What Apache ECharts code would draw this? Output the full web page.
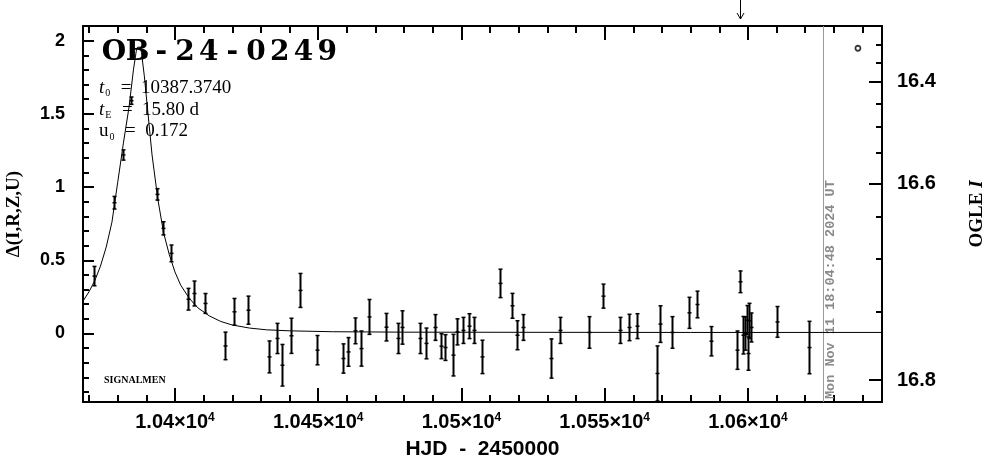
<!DOCTYPE html>
<html>
<head>
<meta charset="utf-8">
<script src="https://cdn.jsdelivr.net/npm/echarts@6/dist/echarts.min.js"></script>
<style>
html,body{margin:0;padding:0;background:#fff;}
#chart{width:986px;height:459px;}
</style>
</head>
<body>
<div id="chart"></div>
<script>
// ---------------- data ----------------
const X_MIN = 10367.9, X_MAX = 10646.8;
const Y_MIN = -0.468, Y_MAX = 2.10;

// photometry: HJD-2450000, Delta, error
const hjd = [10371.7,10378.7,10381.8,10384.6,10393.6,10395.7,10398.5,10404.6,10406.7,10410.6,
  10417.5,10420.7,10425.6,10432.8,10435.7,10437.4,10440.5,10443.6,10449.6,10458.5,
  10460.5,10462.8,10464.8,10467.8,10473.5,10477.7,10479.3,10485.5,10487.6,10490.6,
  10492.7,10494.4,10497.1,10498.5,10500.6,10502.6,10504.4,10507.3,10513.6,10517.5,
  10519.4,10521.5,10531.4,10534.5,10544.4,10549.4,10555.3,10558.5,10561.3,10568.3,
  10569.4,10573.5,10579.4,10582.3,10587.2,10596.1,10597.3,10598.3,10598.9,10599.6,
  10600.0,10600.5,10601.1,10610.3,10621.3];
const delta = [0.392,0.893,1.219,1.59,0.950,0.718,0.547,0.234,0.273,0.205,
  -0.085,0.148,0.159,-0.160,-0.034,-0.217,-0.016,0.294,-0.114,-0.171,
  -0.126,0.018,-0.103,0.113,0.043,-0.034,0.041,-0.034,-0.068,0.041,
  -0.087,-0.096,-0.148,0.011,0.021,0.050,0.021,-0.160,0.342,0.189,
  -0.012,0.041,-0.171,0.021,0.007,0.255,0.021,0.041,0.050,-0.273,
  0.064,0.007,0.141,0.198,-0.053,-0.114,0.353,-0.012,0.000,0.091,
  -0.137,0.086,0.041,0.079,-0.096];
const err = [0.066,0.043,0.035,0.025,0.039,0.045,0.057,0.074,0.085,0.068,
  0.094,0.091,0.096,0.109,0.103,0.142,0.120,0.116,0.100,0.100,
  0.098,0.088,0.120,0.119,0.094,0.103,0.114,0.103,0.105,0.088,
  0.085,0.088,0.142,0.089,0.089,0.085,0.089,0.114,0.097,0.085,
  0.099,0.088,0.134,0.089,0.108,0.082,0.089,0.090,0.085,0.188,
  0.125,0.108,0.106,0.091,0.100,0.131,0.074,0.128,0.114,0.100,
  0.114,0.120,0.099,0.105,0.179];

// model curve
const modelT = [10367.9,10370,10372,10374,10376,10378,10380,10382,10384,10385.5,10386.5,10386.9,10387.4,
  10387.9,10388.3,10389.3,10390.5,10392,10394,10396,10398,10400,10402,10405,10408,10412,10416,
  10420,10426,10432,10440,10455,10480,10520,10580,10646.8];
const modelDelta = [0.221,0.285,0.36,0.46,0.59,0.76,1.03,1.30,1.55,1.80,1.93,1.955,1.965,
  1.955,1.92,1.76,1.52,1.22,0.92,0.69,0.54,0.42,0.33,0.24,0.175,0.12,0.082,
  0.058,0.037,0.025,0.018,0.012,0.009,0.008,0.007,0.007];

// fit parameters (text)
const eventName = 'OB-24-0249';
const t0Text = '10387.3740', tEText = '15.80 d', u0Text = '0.172';

// tick values
const xMajor = [10400,10450,10500,10550,10600];
const xMinor = [10370,10380,10390,10410,10420,10430,10440,10460,10470,10480,10490,10510,10520,10530,10540,10560,10570,10580,10590,10610,10620,10630,10640];
const yMajor = [0,0.5,1,1.5,2];
const yMinor = [-0.4,-0.3,-0.2,-0.1,0.1,0.2,0.3,0.4,0.6,0.7,0.8,0.9,1.1,1.2,1.3,1.4,1.6,1.7,1.8,1.9,2.0];
// OGLE I magnitude ticks and the Delta level each one sits at on the right axis
const magTicks = [16.3,16.35,16.4,16.45,16.5,16.55,16.6,16.65,16.7,16.75,16.8];
const magTickDelta = [1.971,1.846,1.720,1.572,1.412,1.234,1.025,0.797,0.513,0.148,-0.319];
const magLabels = [16.4,16.6,16.8];

// extra markers
const nowHJD = 10626.25;
const nowText = 'Mon Nov 11 18:04:48 2024 UT';
const arrowHJD = 10597.3;
const legendSym = [10638.4, 1.948];

// ---------------- chart ----------------
const magLabelDelta = magLabels.map(m => magTickDelta[magTicks.indexOf(m)]);
const magMinorDelta = magTicks.filter(m => magLabels.indexOf(m) < 0).map(m => magTickDelta[magTicks.indexOf(m)]);

const chart = echarts.init(document.getElementById('chart'));
const BLACK = '#000';
const tickStyle = {color: BLACK, width: 2};

function xFmt(v){
  const m = parseFloat((v/1e4).toFixed(4));
  return m + '×10{sup|4}';
}

const photData = hjd.map((t,i)=>[t, delta[i], err[i]]);

// monospace-like cells for the event name
const nameRich = {c:{width:23.7, align:'center', fontFamily:'DejaVu Serif', fontWeight:'bold', fontSize:28, fill:BLACK, color:BLACK}};
const nameText = eventName.split('').map(ch => '{c|' + ch + '}').join('');

const paramRich = {
  it:{fontFamily:'Liberation Serif', fontStyle:'italic', fontSize:19, fill:BLACK},
  up:{fontFamily:'Liberation Serif', fontSize:19, fill:BLACK},
  sub:{fontFamily:'Liberation Serif', fontSize:10, fill:BLACK, padding:[11,1,0,1]},
  n:{fontFamily:'Liberation Serif', fontSize:19, fill:BLACK}
};

const option = {
  animation: false,
  backgroundColor: '#fff',
  grid: {left: 83, right: 104, top: 26, bottom: 57, containLabel: false, outerBoundsMode: 'none'},
  xAxis: [
    {type:'value', min:X_MIN, max:X_MAX, position:'bottom',
     axisLine:{show:true, onZero:false, lineStyle:{color:BLACK, width:2}},
     axisTick:{show:true, inside:true, length:14, lineStyle:tickStyle, customValues:xMajor},
     axisLabel:{show:true, customValues:xMajor, formatter:xFmt, margin:10, color:BLACK,
        fontFamily:'Liberation Sans', fontWeight:'bold', fontSize:20,
        rich:{sup:{fontSize:12, fontFamily:'Liberation Sans', fontWeight:'bold', color:BLACK, verticalAlign:'top', padding:[0,0,9,0]}}},
     splitLine:{show:false},
     name:'HJD  -  2450000', nameLocation:'middle', nameGap:37,
     nameTextStyle:{fontFamily:'Liberation Sans', fontWeight:'bold', fontSize:21, color:BLACK}},
    {type:'value', min:X_MIN, max:X_MAX, position:'bottom',
     axisLine:{show:false, onZero:false}, axisLabel:{show:false}, splitLine:{show:false},
     axisTick:{show:true, inside:true, length:7, lineStyle:tickStyle, customValues:xMinor}},
    {type:'value', min:X_MIN, max:X_MAX, position:'top',
     axisLine:{show:true, onZero:false, lineStyle:{color:BLACK, width:2}}, axisLabel:{show:false}, splitLine:{show:false},
     axisTick:{show:true, inside:true, length:14, lineStyle:tickStyle, customValues:xMajor}},
    {type:'value', min:X_MIN, max:X_MAX, position:'top',
     axisLine:{show:false, onZero:false}, axisLabel:{show:false}, splitLine:{show:false},
     axisTick:{show:true, inside:true, length:7, lineStyle:tickStyle, customValues:xMinor}}
  ],
  yAxis: [
    {type:'value', min:Y_MIN, max:Y_MAX, position:'left',
     axisLine:{show:true, onZero:false, lineStyle:{color:BLACK, width:2}},
     axisTick:{show:true, inside:true, length:11, lineStyle:tickStyle, customValues:yMajor},
     axisLabel:{show:true, customValues:yMajor, margin:18, color:BLACK, fontFamily:'Liberation Sans', fontWeight:'bold', fontSize:18},
     splitLine:{show:false},
     name:'Δ(I,R,Z,U)', nameLocation:'middle', nameRotate:90, nameGap:59,
     nameTextStyle:{fontFamily:'Liberation Serif', fontWeight:'bold', fontSize:19, color:BLACK}},
    {type:'value', min:Y_MIN, max:Y_MAX, position:'left',
     axisLine:{show:false, onZero:false}, axisLabel:{show:false}, splitLine:{show:false},
     axisTick:{show:true, inside:true, length:6, lineStyle:tickStyle, customValues:yMinor}},
    {type:'value', min:Y_MIN, max:Y_MAX, position:'right',
     axisLine:{show:true, onZero:false, lineStyle:{color:BLACK, width:2}},
     axisTick:{show:true, inside:true, length:13, lineStyle:tickStyle, customValues:magLabelDelta},
     axisLabel:{show:true, customValues:magLabelDelta, margin:15, color:BLACK, fontFamily:'Liberation Sans', fontWeight:'bold', fontSize:20,
        formatter:function(v){
          let best=0; for(let i=0;i<magTickDelta.length;i++){ if(Math.abs(magTickDelta[i]-v)<Math.abs(magTickDelta[best]-v)) best=i; }
          return magTicks[best].toFixed(1);
        }},
     splitLine:{show:false},
     name:'{a|OGLE }{b|I}', nameLocation:'middle', nameRotate:90, nameGap:86,
     nameTextStyle:{rich:{a:{fontFamily:'Liberation Serif', fontWeight:'bold', fontSize:19, color:BLACK},
                          b:{fontFamily:'Liberation Serif', fontWeight:'bold', fontStyle:'italic', fontSize:19, color:BLACK}}}},
    {type:'value', min:Y_MIN, max:Y_MAX, position:'right',
     axisLine:{show:false, onZero:false}, axisLabel:{show:false}, splitLine:{show:false},
     axisTick:{show:true, inside:true, length:6, lineStyle:tickStyle, customValues:magMinorDelta}}
  ],
  graphic: [
    {type:'text', x:102, y:53, z:10,
     style:{text:nameText, rich:nameRich, verticalAlign:'middle', textVerticalAlign:'middle'}},
    {type:'text', x:99, y:88, z:10,
     style:{text:'{it|t}{sub|0}{n|  =  '+t0Text+'}', verticalAlign:'middle', textVerticalAlign:'middle', rich:paramRich}},
    {type:'text', x:99, y:110, z:10,
     style:{text:'{it|t}{sub|E}{n|  =  '+tEText+'}', verticalAlign:'middle', textVerticalAlign:'middle', rich:paramRich}},
    {type:'text', x:99, y:131.5, z:10,
     style:{text:'{up|u}{sub|0}{n|  =  '+u0Text+'}', verticalAlign:'middle', textVerticalAlign:'middle', rich:paramRich}},
    {type:'text', x:104, y:380, z:10,
     style:{text:'SIGNALMEN', font:'bold 10px "Liberation Serif"', fill:BLACK, verticalAlign:'middle', textVerticalAlign:'middle'}}
  ],
  series: [
    {type:'line', name:'model', xAxisIndex:0, yAxisIndex:0, data:modelT.map((t,i)=>[t, modelDelta[i]]),
     showSymbol:false, symbol:'none', lineStyle:{color:BLACK, width:1}, clip:true, z:2},
    {type:'custom', name:'OGLE', xAxisIndex:0, yAxisIndex:0, data:photData, clip:true, z:3,
     renderItem:function(params, api){
       const t=api.value(0), d=api.value(1), e=api.value(2);
       const top=api.coord([t,d+e]), bot=api.coord([t,d-e]), mid=api.coord([t,d]);
       const x=Math.round(top[0])+0.5;
       const st={stroke:BLACK, lineWidth:2};
       return {type:'group', children:[
         {type:'line', shape:{x1:x,y1:top[1],x2:x,y2:bot[1]}, style:st},
         {type:'line', shape:{x1:x-2,y1:top[1],x2:x+2,y2:top[1]}, style:{stroke:BLACK,lineWidth:1.5}},
         {type:'line', shape:{x1:x-2,y1:bot[1],x2:x+2,y2:bot[1]}, style:{stroke:BLACK,lineWidth:1.5}},
         {type:'line', shape:{x1:x-2,y1:mid[1],x2:x+2,y2:mid[1]}, style:{stroke:BLACK,lineWidth:1.5}}
       ]};
     }},
    {type:'custom', name:'now', xAxisIndex:0, yAxisIndex:0, data:[[nowHJD]], clip:false, z:1, silent:true,
     renderItem:function(params, api){
       const b=api.coord([api.value(0), Y_MIN]), tp=api.coord([api.value(0), Y_MAX]);
       const x=Math.round(b[0])+0.5;
       return {type:'group', children:[
         {type:'line', shape:{x1:x,y1:b[1],x2:x,y2:tp[1]}, style:{stroke:'#9a9a9a', lineWidth:1}},
         {type:'text', x:x+7, y:b[1]-3, rotation:Math.PI/2,
          style:{text:nowText, font:'bold 13.5px "Liberation Mono"', fill:'#8a8a8a', align:'left', verticalAlign:'middle', textAlign:'left', textVerticalAlign:'middle'}}
       ]};
     }},
    {type:'custom', name:'arrow', xAxisIndex:0, yAxisIndex:0, data:[[arrowHJD]], clip:false, z:5, silent:true,
     renderItem:function(params, api){
       const p=api.coord([api.value(0), Y_MAX]);
       const x=Math.round(p[0])+0.5, y0=p[1]-26, y1=p[1]-7;
       const st={stroke:BLACK, lineWidth:1};
       return {type:'group', children:[
         {type:'line', shape:{x1:x,y1:y0,x2:x,y2:y1}, style:st},
         {type:'line', shape:{x1:x-3.5,y1:y1-6,x2:x,y2:y1}, style:st},
         {type:'line', shape:{x1:x+3.5,y1:y1-6,x2:x,y2:y1}, style:st}
       ]};
     }},
    {type:'scatter', name:'symbol', xAxisIndex:0, yAxisIndex:0, data:[legendSym], symbol:'circle', symbolSize:5,
     itemStyle:{color:'#fff', borderColor:BLACK, borderWidth:1.8}, z:5}
  ]
};
chart.setOption(option);
</script>
</body>
</html>
